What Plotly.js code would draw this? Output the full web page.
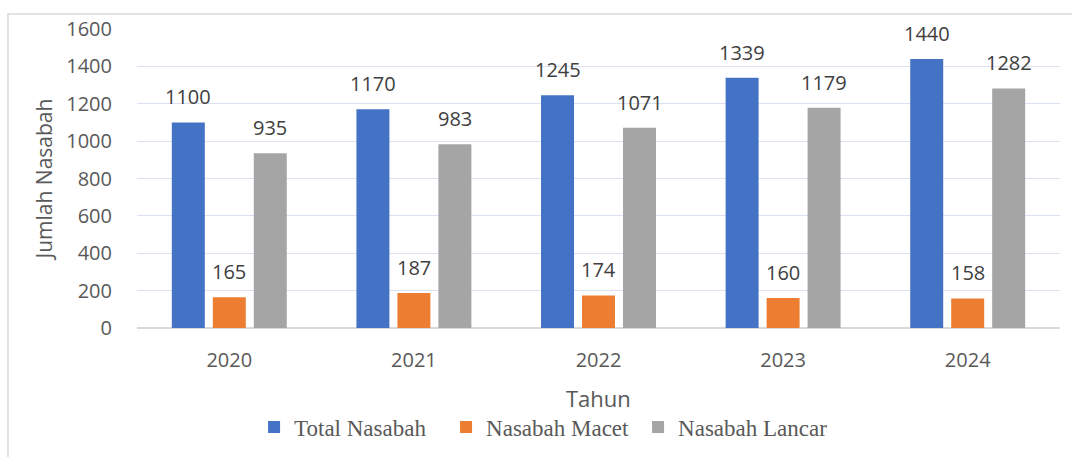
<!DOCTYPE html>
<html>
<head>
<meta charset="utf-8">
<script src="https://cdn.plot.ly/plotly-3.0.1.min.js"></script>
<style>
html,body{margin:0;padding:0;background:#fff;}
#chart{width:1072px;height:457px;}
</style>
</head>
<body>
<div id="chart"></div>
<script>
const years = ["2020", "2021", "2022", "2023", "2024"];
const totalNasabah = [1100, 1170, 1245, 1339, 1440];
const nasabahMacet = [165, 187, 174, 160, 158];
const nasabahLancar = [935, 983, 1071, 1179, 1282];
const seriesNames = ["Total Nasabah", "Nasabah Macet", "Nasabah Lancar"];
const seriesColors = ["#4472C4", "#ED7D31", "#A5A5A5"];
const yTicks = [0, 200, 400, 600, 800, 1000, 1200, 1400, 1600];
const xTitle = "Tahun";
const yTitle = "Jumlah Nasabah";

const allSeries = [totalNasabah, nasabahMacet, nasabahLancar];
const sansFont = "'Open Sans', 'Liberation Sans', sans-serif";

const traces = allSeries.map((vals, i) => ({
  type: "bar",
  name: seriesNames[i],
  x: years,
  y: vals,
  marker: {color: seriesColors[i]},
  hoverinfo: "skip"
}));

const slotShift = [-41, 0, 41];
const annotations = [];
allSeries.forEach((vals, i) => {
  vals.forEach((v, j) => {
    annotations.push({
      x: j, y: v, xref: "x", yref: "y",
      text: String(v), showarrow: false,
      xshift: slotShift[i], yshift: 10,
      yanchor: "bottom",
      font: {family: sansFont, size: 20, color: "#404040"}
    });
  });
});
// x-axis title, placed as text below the tick labels
annotations.push({
  x: 0.5, y: -0.234, xref: "paper", yref: "paper",
  text: xTitle, showarrow: false,
  xanchor: "center", yanchor: "middle",
  font: {family: sansFont, size: 22, color: "#595959"}
});

const layout = {
  width: 1072, height: 457,
  margin: {l: 137, r: 12, t: 29, b: 129, autoexpand: false},
  paper_bgcolor: "#fff", plot_bgcolor: "#fff",
  barmode: "group",
  bargap: 0.334,
  bargroupgap: 0.195,
  showlegend: true,
  legend: {
    orientation: "h",
    xref: "container", yref: "container",
    x: 0.237, xanchor: "left",
    y: 0.0657, yanchor: "middle",
    entrywidth: 147, entrywidthmode: "pixels",
    font: {family: "'Liberation Serif', 'Times New Roman', serif", size: 23, color: "#595959"},
    traceorder: "normal"
  },
  xaxis: {
    type: "category",
    categoryorder: "array", categoryarray: years,
    range: [-0.5, years.length - 0.5],
    autorange: false,
    automargin: false,
    showgrid: false,
    showline: false,
    zeroline: false,
    ticks: "outside", ticklen: 14, tickcolor: "rgba(0,0,0,0)",
    tickfont: {family: sansFont, size: 20, color: "#595959"}
  },
  yaxis: {
    range: [0, 1600],
    autorange: false,
    automargin: false,
    tickvals: yTicks,
    ticktext: yTicks.map(String),
    showgrid: true, gridcolor: "#d9e1f2", gridwidth: 1,
    zeroline: true, zerolinecolor: "#d9d9d9", zerolinewidth: 1.5,
    showline: false,
    ticks: "outside", ticklen: 20, tickcolor: "rgba(0,0,0,0)",
    tickfont: {family: sansFont, size: 20, color: "#595959"},
    title: {text: yTitle, font: {family: sansFont, size: 21, color: "#595959"}, standoff: 7}
  },
  annotations: annotations,
  shapes: [{
    type: "rect", xref: "paper", yref: "paper",
    x0: -0.1398, x1: 1.1, y0: -0.6, y1: 1.05,
    line: {color: "#d9d9d9", width: 1.5}, fillcolor: "rgba(0,0,0,0)", layer: "below"
  }]
};

Plotly.newPlot("chart", traces, layout, {displayModeBar: false, staticPlot: true});
</script>
</body>
</html>
